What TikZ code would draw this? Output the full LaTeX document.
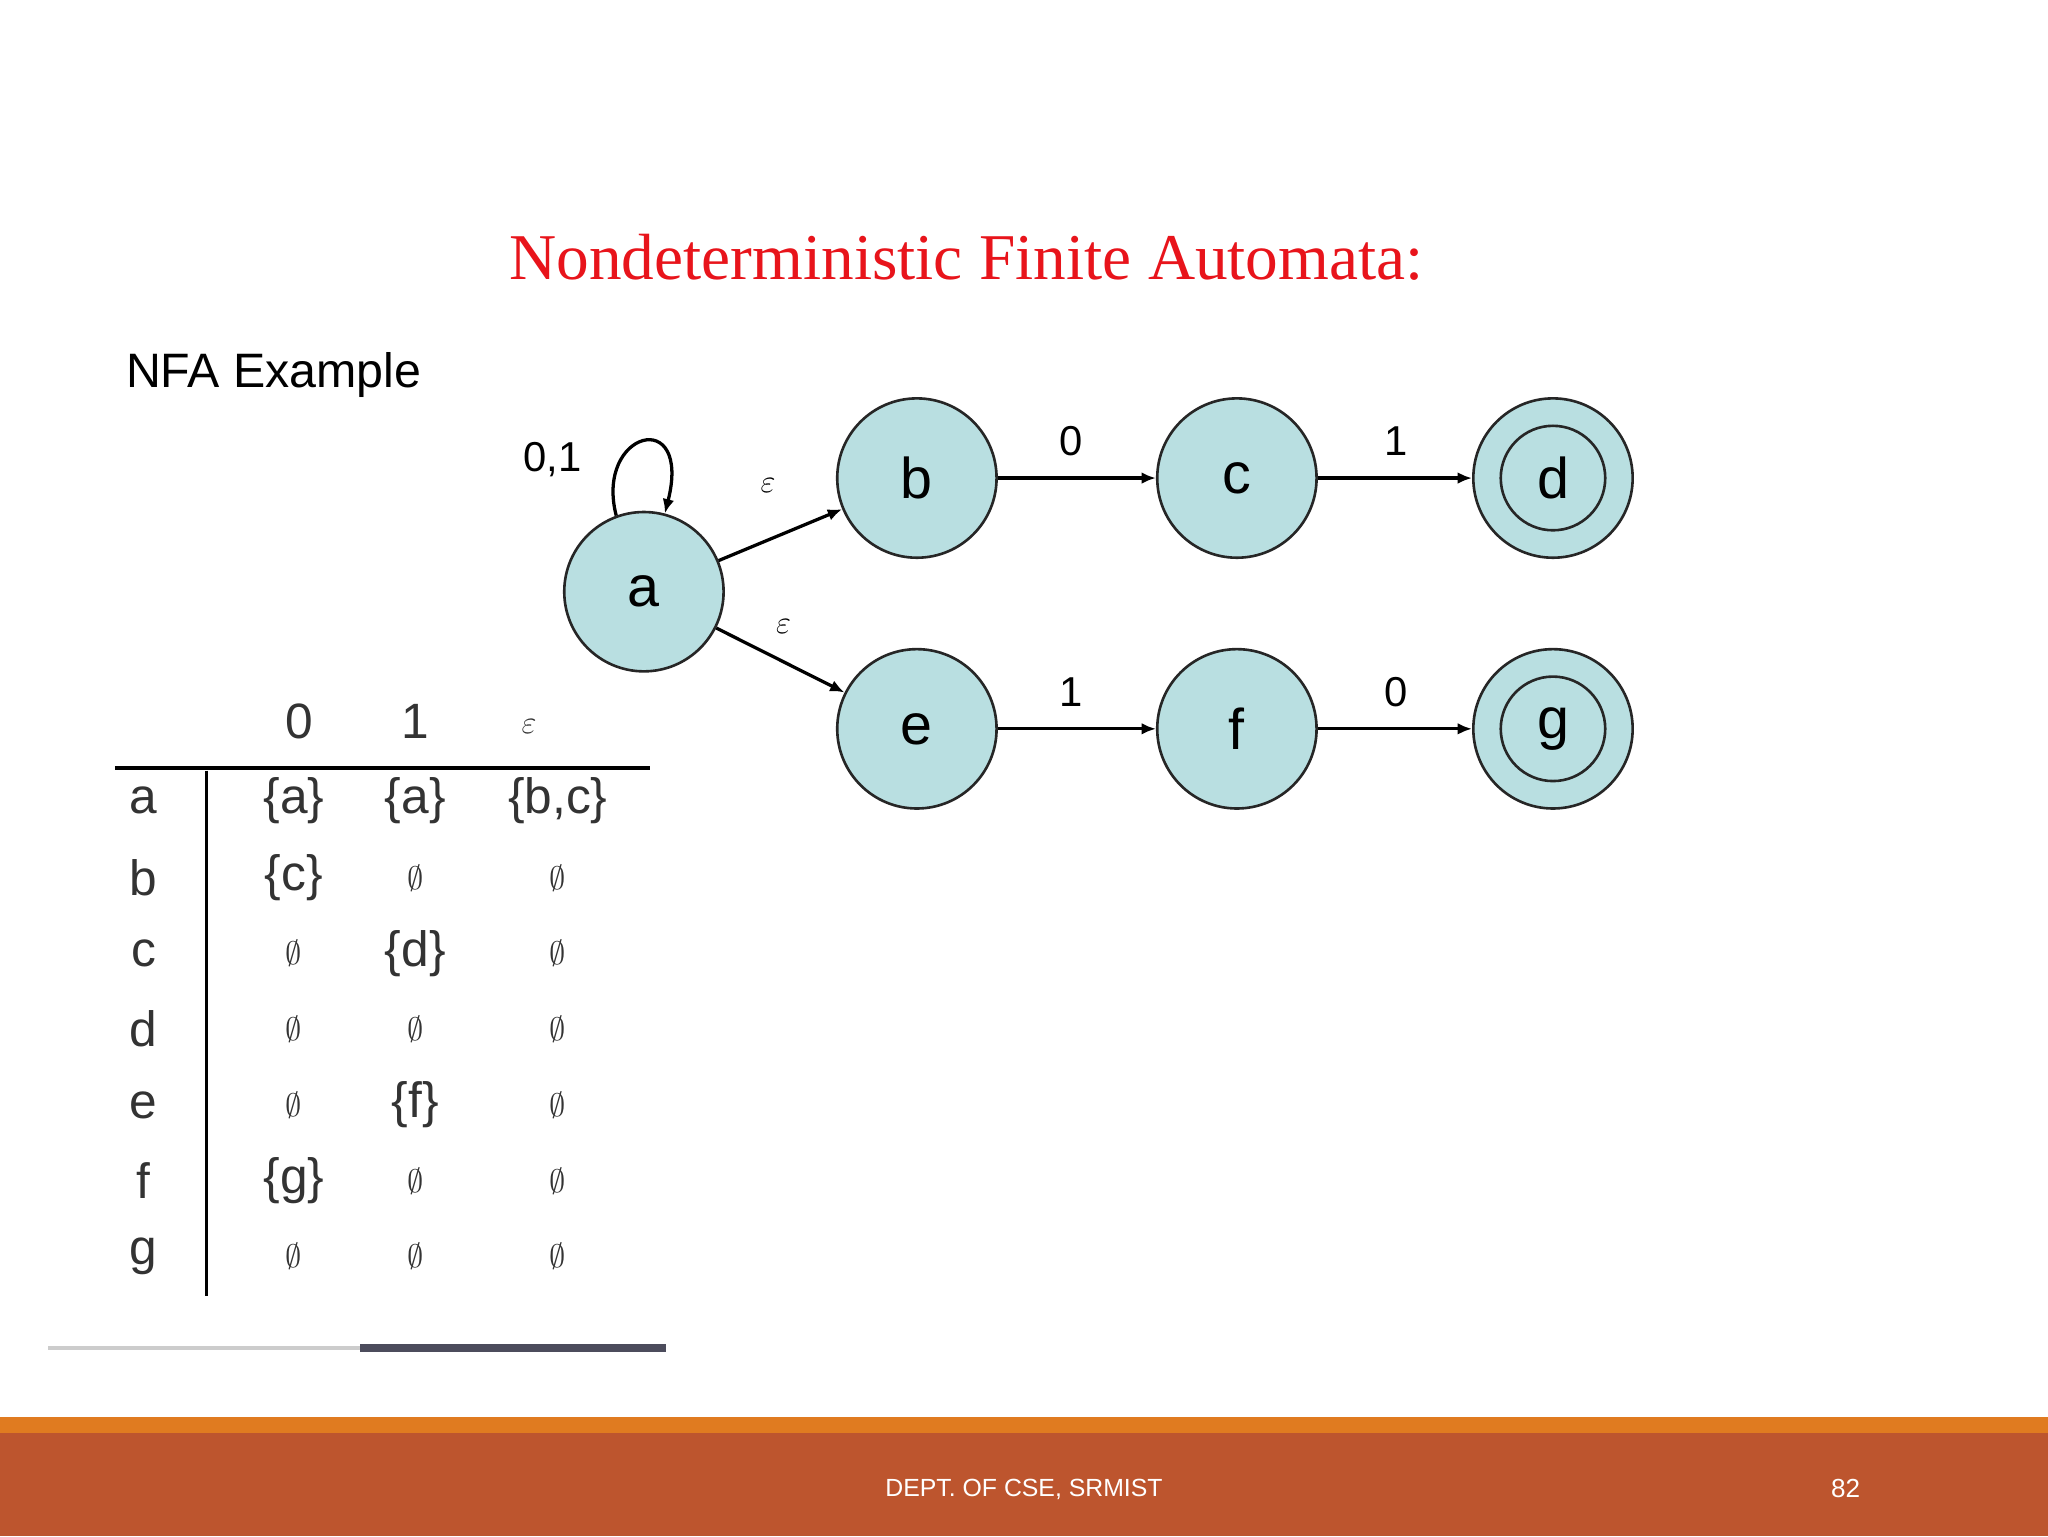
\documentclass[tikz,border=0pt]{standalone}
\usepackage{fontspec}
\setmainfont{Liberation Sans}
\newfontfamily\titlefont{Liberation Serif}
\usetikzlibrary{arrows.meta}
\definecolor{stfill}{HTML}{B9DFE1}
\definecolor{bandor}{HTML}{E07B20}
\definecolor{bandrust}{HTML}{BD552E}
\definecolor{tred}{HTML}{E8141B}
\tikzset{
 st/.style={circle,draw=black!85,line width=2pt,fill=stfill,minimum size=122pt,inner sep=0pt,font=\fontsize{44}{50}\selectfont},
 tr/.style={-{Latex[length=11pt,width=9pt]},line width=2.5pt},
 lab/.style={font=\fontsize{32}{36}\selectfont},
 cell/.style={font=\fontsize{38}{44}\selectfont,text=black!80},
}
\newcommand{\tabrow}[5]{%
 \node[cell] at (110,#2) {#1};
 \node[cell] at (225,#2) {#3};
 \node[cell] at (318,#2) {#4};
 \node[cell] at (427,#2) {#5};
}
\newcommand{\es}{$\emptyset$}
\begin{document}
\begin{tikzpicture}[x=1pt,y=-1pt]
\useasboundingbox (0,0) rectangle (1568,1176);
\fill[white] (0,0) rectangle (1568,1176);
\node[text=tred,font=\titlefont\fontsize{50}{58}\selectfont] (title) at (740,197) {Nondeterministic Finite Automata:};
\node[anchor=west,font=\fontsize{37}{42}\selectfont] (nfa) at (93,287) {NFA Example};
% states
\node[st] (a) at (493,453) {a};
\node[st] (b) at (702,366) {b};
\node[st] (c) at (947,366) {c};
\node[st] (e) at (702,558) {e};
\node[st] (f) at (947,558) {f};
\node[st] (d) at (1189,366) {};
\node[st,minimum size=80pt,fill=none] (d2) at (1189,366) {d};
\node[st] (g) at (1189,558) {};
\node[st,minimum size=80pt,fill=none] (g2) at (1189,558) {g};
\draw[tr] (a) -- (b);
\draw[tr] (a) -- (e);
\draw[tr] (b) -- (c);
\draw[tr] (c) -- (d);
\draw[tr] (e) -- (f);
\draw[tr] (f) -- (g);
\draw[tr] (a.110) .. controls (455,330) and (530,310) .. (a.75);
\node[lab] at (423,352) {0,1};
\node[lab] at (588,372) {$\varepsilon$};
\node[lab] at (600,480) {$\varepsilon$};
\node[lab] at (820,338) {0};
\node[lab] at (1069,338) {1};
\node[lab] at (820,530) {1};
\node[lab] at (1069,530) {0};
% table
\node[cell] at (229,552) {0};
\node[cell] at (318,552) {1};
\node[cell] at (405,556) {$\varepsilon$};
\draw[line width=2.5pt] (88,588) -- (498,588);
\draw[line width=2.5pt] (158,590) -- (158,992);
\tabrow{a}{613}{\{a\}}{\{a\}}{\{b,c\}}
\tabrow{b}{672}{\{c\}}{\es}{\es}
\tabrow{c}{730}{\es}{\{d\}}{\es}
\tabrow{d}{788}{\es}{\es}{\es}
\tabrow{e}{846}{\es}{\{f\}}{\es}
\tabrow{f}{904}{\{g\}}{\es}{\es}
\tabrow{g}{962}{\es}{\es}{\es}
\draw[black!20,line width=3pt] (37,1032) -- (276,1032);
\draw[black!85!blue!40!gray,line width=6pt] (276,1032) -- (510,1032);
% footer
\fill[bandor] (0,1085) rectangle (1568,1097);
\fill[bandrust] (0,1097) rectangle (1568,1176);
\node[text=white,font=\fontsize{19}{22}\selectfont] at (784,1140) {DEPT. OF CSE, SRMIST};
\node[text=white,font=\fontsize{20}{22}\selectfont] at (1413,1140) {82};
\end{tikzpicture}
\end{document}
